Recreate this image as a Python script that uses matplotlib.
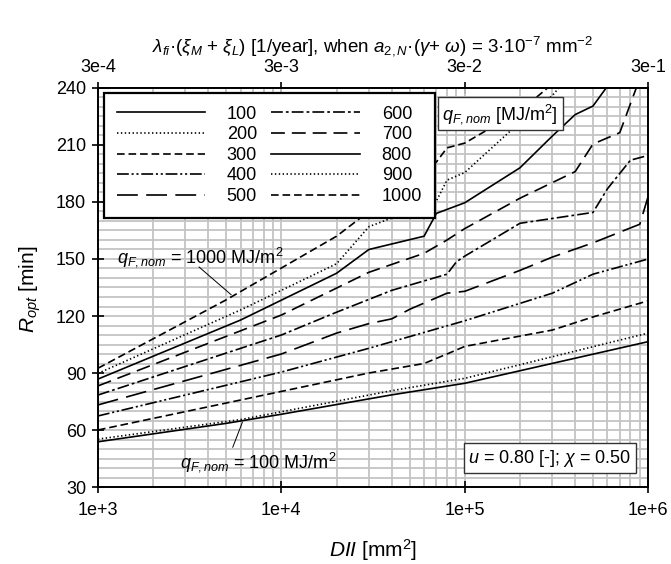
import matplotlib
matplotlib.use("Agg")
import matplotlib.pyplot as plt
from matplotlib.ticker import FixedLocator, FixedFormatter, NullLocator, NullFormatter, LogLocator, MultipleLocator

plt.rcParams["font.family"] = ["Liberation Sans", "DejaVu Sans"]
plt.rcParams["mathtext.fontset"] = "custom"
plt.rcParams["mathtext.rm"] = "Liberation Sans"
plt.rcParams["mathtext.it"] = "Liberation Sans:italic"
plt.rcParams["mathtext.bf"] = "Liberation Sans:bold"
plt.rcParams["lines.scale_dashes"] = False

# ---------------------------
# Data
# ---------------------------
factor = 3e-7  # a_2,N * (gamma + omega) [mm^-2]

dii_100 = [1e3, 5e3, 1e4, 4e4, 1e5, 1e6]
r_100 = [53.8, 63.5, 68.3, 78.5, 84.6, 106.5]

dii_200 = [1e3, 6e3, 4e4, 1e5, 1e6]
r_200 = [55.2, 65.5, 80.7, 87.2, 111]

dii_300 = [1e3, 3e4, 6e4, 8e4, 1e5, 3e5, 5e5, 1e6]
r_300 = [60, 90, 95, 100, 104, 112.6, 119.5, 128]

dii_400 = [1e3, 1e4, 3e4, 1e5, 3e5, 5e5, 1e6]
r_400 = [67.4, 90.5, 103, 117.5, 132, 142, 150]

dii_500 = [1e3, 1e4, 2e4, 3e4, 4e4, 5e4, 8e4, 1e5, 2e5, 3e5, 5e5, 9e5, 1e6]
r_500 = [73.2, 100, 111, 116, 118.5, 123.5, 132, 133, 144, 151, 158.5, 168.3, 183]

dii_600 = [1e3, 1e4, 2e4, 4e4, 8e4, 9e4, 1e5, 2e5, 5e5, 6e5, 8e5, 1e6]
r_600 = [78.4, 110, 122, 133.5, 142, 148.5, 151.5, 168.8, 174.5, 187, 202, 204.5]

dii_700 = [1e3, 1e4, 3e4, 6e4, 8e4, 1e5, 2e5, 4e5, 5e5, 7e5, 9e5]
r_700 = [83.2, 120.5, 143, 153, 160, 166, 182, 196, 210.5, 216.5, 245]

dii_800 = [1e3, 6e3, 2e4, 3e4, 6e4, 7e4, 1e5, 2e5, 3e5, 4e5, 5e5, 6e5]
r_800 = [86.8, 117.9, 142.5, 155, 162, 174, 179.6, 198, 214.7, 226, 230.5, 241]

dii_900 = [1e3, 6e3, 2e4, 3e4, 7e4, 8e4, 1e5, 2e5, 3e5, 4e5]
r_900 = [89.8, 123.2, 147.5, 167, 180.5, 191.5, 195.5, 222, 236, 250]

dii_1000 = [1e3, 5e3, 2e4, 3e4, 5e4, 7e4, 8e4, 1e5, 2e5, 3e5]
r_1000 = [92.5, 128.5, 162, 175, 190, 201, 208.5, 211, 228, 242]

q_labels = ["100", "200", "300", "400", "500", "600", "700", "800", "900", "1000"]

x_ticks = [1e3, 1e4, 1e5, 1e6]
x_ticklabels = ["1e+3", "1e+4", "1e+5", "1e+6"]
top_ticks = [3e-4, 3e-3, 3e-2, 3e-1]
top_ticklabels = ["3e-4", "3e-3", "3e-2", "3e-1"]
y_ticks = [30, 60, 90, 120, 150, 180, 210, 240]

# line styles (on/off in points)
dotted = (0, (1.0, 1.8))
short_dash = (0, (5.5, 2.8))
long_dash = (0, (15, 6))
mid_dash = (0, (10, 5))
dash_dot = (0, (8.5, 2.2, 2.0, 2.2))
dash_dot_dot = (0, (8.5, 2.0, 1.5, 2.0, 1.5, 2.0))

series = [
    (dii_100, r_100, "-"),
    (dii_200, r_200, dotted),
    (dii_300, r_300, short_dash),
    (dii_400, r_400, dash_dot_dot),
    (dii_500, r_500, long_dash),
    (dii_600, r_600, dash_dot),
    (dii_700, r_700, mid_dash),
    (dii_800, r_800, "-"),
    (dii_900, r_900, dotted),
    (dii_1000, r_1000, short_dash),
]

fig = plt.figure(figsize=(6.71, 5.64), dpi=100)
ax = fig.add_axes([0.146, 0.1365, 0.82, 0.7075])

for (x, y, ls), lab in zip(series, q_labels):
    ax.plot(x, y, color="black", lw=1.2, linestyle=ls, label=lab, zorder=3)

ax.set_xscale("log")
ax.set_xlim(1e3, 1e6)
ax.set_ylim(30, 240)

ax.xaxis.set_major_locator(FixedLocator(x_ticks))
ax.xaxis.set_major_formatter(FixedFormatter(x_ticklabels))
ax.xaxis.set_minor_locator(LogLocator(base=10, subs=range(2, 10)))
ax.xaxis.set_minor_formatter(NullFormatter())
ax.yaxis.set_major_locator(FixedLocator(y_ticks))
ax.yaxis.set_minor_locator(MultipleLocator(5))

ax.grid(which="both", color="#c4c4c4", lw=1.3, zorder=0)
ax.set_axisbelow(True)

ax.tick_params(which="major", direction="inout", length=9, width=1.2, labelsize=13, pad=4)
ax.tick_params(which="minor", length=0)
ax.tick_params(axis="x", pad=6)
for s in ax.spines.values():
    s.set_linewidth(1.4)

# top axis
sec = ax.secondary_xaxis("top", functions=(lambda v: v * factor, lambda v: v / factor))
sec.xaxis.set_major_locator(FixedLocator(top_ticks))
sec.xaxis.set_major_formatter(FixedFormatter(top_ticklabels))
sec.xaxis.set_minor_locator(NullLocator())
sec.tick_params(direction="inout", length=9, width=1.2, labelsize=13, pad=4)
sec.spines["top"].set_linewidth(1.4)

leg = ax.legend(ncol=2, loc="upper left", bbox_to_anchor=(0.011, 0.9875), fontsize=13,
                handlelength=4.9, handletextpad=1.2, columnspacing=0.8, labelspacing=0.2,
                borderpad=0.7, borderaxespad=0.0, fancybox=False, framealpha=1,
                edgecolor="black")
leg.get_frame().set_linewidth(1.6)
leg.set_zorder(5)

box = dict(boxstyle="square,pad=0.25", facecolor="white", edgecolor="#333333", lw=1.0)
ax.text(0.731, 0.936, r"$q_{F,nom}$ [MJ/m$^2$]", transform=ax.transAxes, fontsize=13,
        ha="center", va="center", bbox=box, zorder=6)
ax.text(0.821, 0.072, r"$u$ = 0.80 [-]; $\chi$ = 0.50", transform=ax.transAxes, fontsize=13,
        ha="center", va="center", bbox=box, zorder=6)

ax.text(1270, 151, r"$q_{F,nom}$ = 1000 MJ/m$^2$", fontsize=13, ha="left", va="center", zorder=4)
ax.annotate("", xy=(5470, 130.2), xytext=(3460, 146.8),
            arrowprops=dict(arrowstyle="-", lw=0.7, color="black"))
ax.text(2800, 43.2, r"$q_{F,nom}$ = 100 MJ/m$^2$", fontsize=13, ha="left", va="center", zorder=4)
ax.annotate("", xy=(6210, 65.5), xytext=(5360, 49.5),
            arrowprops=dict(arrowstyle="-", lw=0.7, color="black"))

fig.text(0.556, 0.918,
         r"$\lambda_{fi}$·($\xi_M$ + $\xi_L$) [1/year], when $a_{2,N}$·($\gamma$+ $\omega$) = 3·10$^{-7}$ mm$^{-2}$",
         fontsize=13.5, ha="center", va="center")
fig.text(0.556, 0.025, r"$DII$ [mm$^2$]", fontsize=15, ha="center", va="center")
fig.text(0.045, 0.487, r"$R_{opt}$ [min]", fontsize=15, ha="center", va="center", rotation=90)

fig.savefig("out.png", dpi=100)
